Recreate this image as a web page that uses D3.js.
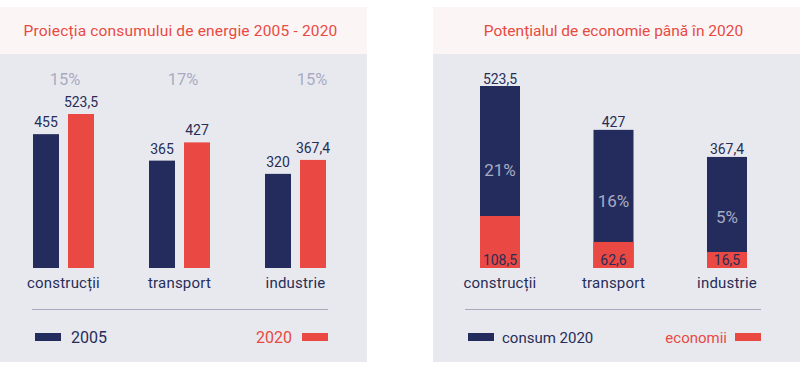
<!DOCTYPE html>
<html><head><meta charset="utf-8">
<script src="https://cdn.jsdelivr.net/npm/d3@7"></script>
<style>body{margin:0;background:#fff}svg{display:block;font-family:Roboto,sans-serif}</style>
</head><body><svg id="c" width="800" height="378"></svg>
<script>
// ---- data ----
const categories = ["construcții", "transport", "industrie"];
const values2005 = [455, 365, 320];
const values2020 = [523.5, 427, 367.4];
const growthPct = ["15%", "17%", "15%"];
const consum2020 = [523.5, 427, 367.4];
const economii = [108.5, 62.6, 16.5];
const savingPct = ["21%", "16%", "5%"];
const leftTitle = "Proiecția consumului de energie 2005 - 2020";
const rightTitle = "Potențialul de economie până în 2020";
const fmt = v => String(v).replace(".", ",");

// ---- style ----
const NAVY = "#232c5d", RED = "#e94942", PCT = "#a8acc2", BG = "#e8e9ef", HEAD = "#fbf6f5", TXT = "#272d57";
const svg = d3.select("#c");

function panel(x0, x1, title, ls) {
  svg.append("rect").attr("x", x0).attr("y", 7).attr("width", x1 - x0).attr("height", 47).attr("fill", HEAD);
  svg.append("rect").attr("x", x0).attr("y", 54).attr("width", x1 - x0).attr("height", 308).attr("fill", BG);
  svg.append("text").attr("x", (x0 + x1) / 2 - 3).attr("y", 36).attr("text-anchor", "middle")
    .attr("fill", RED).attr("font-size", 15.5).attr("letter-spacing", ls).text(title);
}
panel(0, 367, leftTitle, 0.18);
panel(433, 800, rightTitle, 0);

// ---- left chart ----
const xL = d3.scalePoint().domain(categories).range([63.5, 295.5]);
const xInner = d3.scaleBand().domain(["2005", "2020"]).range([-30.5, 30.5]).paddingInner(9 / 35);
const yL = d3.scaleLinear().domain([0, 523.5]).range([268, 114]);
const pctDx = [1.5, 3.5, 16.5];

const gL = svg.append("g");
categories.forEach((c, i) => {
  [["2005", values2005[i], NAVY], ["2020", values2020[i], RED]].forEach(([k, v, col]) => {
    const x = xL(c) + xInner(k);
    gL.append("rect").attr("x", x).attr("y", yL(v)).attr("width", xInner.bandwidth())
      .attr("height", yL(0) - yL(v)).attr("fill", col);
    gL.append("text").attr("x", x + xInner.bandwidth() / 2).attr("y", yL(v) - 7)
      .attr("text-anchor", "middle").attr("fill", TXT).attr("font-size", 14).text(fmt(v));
  });
  gL.append("text").attr("x", xL(c) + pctDx[i]).attr("y", 85).attr("text-anchor", "middle")
    .attr("fill", PCT).attr("font-size", 16.5).text(growthPct[i]);
  gL.append("text").attr("x", xL(c)).attr("y", 288).attr("text-anchor", "middle")
    .attr("fill", TXT).attr("font-size", 15).attr("letter-spacing", 0.2).text(c);
});
gL.append("line").attr("x1", 32).attr("x2", 328).attr("y1", 309.5).attr("y2", 309.5)
  .attr("stroke", "#a9aabd").attr("stroke-width", 1);
gL.append("rect").attr("x", 35).attr("y", 333).attr("width", 26).attr("height", 8).attr("fill", NAVY);
gL.append("text").attr("x", 71).attr("y", 343).attr("fill", TXT).attr("font-size", 16).text("2005");
gL.append("rect").attr("x", 302).attr("y", 333).attr("width", 26).attr("height", 8).attr("fill", RED);
gL.append("text").attr("x", 292).attr("y", 343).attr("text-anchor", "end").attr("fill", RED).attr("font-size", 16).text("2020");

// ---- right chart ----
const xR = d3.scalePoint().domain(categories).range([500, 727]);
const bw = 40;
const yTot = d3.scaleLinear().domain([123, 523.5]).range([268, 86]);
const ySave = d3.scaleLinear().domain([16.5, 108.5]).range([268, 216]);
const minSeg = 16;
const gR = svg.append("g");
categories.forEach((c, i) => {
  const cx = xR(c);
  const top = yTot(consum2020[i]);
  const sTop = Math.min(ySave(economii[i]), 268 - minSeg);
  gR.append("rect").attr("x", cx - bw / 2).attr("y", top).attr("width", bw).attr("height", 268 - top).attr("fill", NAVY);
  gR.append("rect").attr("x", cx - bw / 2).attr("y", sTop).attr("width", bw).attr("height", 268 - sTop).attr("fill", RED);
  gR.append("text").attr("x", cx).attr("y", top - 2.5).attr("text-anchor", "middle")
    .attr("fill", TXT).attr("font-size", 14).text(fmt(consum2020[i]));
  gR.append("text").attr("x", cx).attr("y", 265).attr("text-anchor", "middle")
    .attr("fill", TXT).attr("font-size", 14).text(fmt(economii[i]));
  gR.append("text").attr("x", cx).attr("y", top + 0.69 * (sTop - top)).attr("text-anchor", "middle")
    .attr("fill", PCT).attr("font-size", 17).text(savingPct[i]);
  gR.append("text").attr("x", cx).attr("y", 288).attr("text-anchor", "middle")
    .attr("fill", TXT).attr("font-size", 15).attr("letter-spacing", 0.2).text(c);
});
gR.append("line").attr("x1", 465).attr("x2", 761).attr("y1", 309.5).attr("y2", 309.5)
  .attr("stroke", "#a9aabd").attr("stroke-width", 1);
gR.append("rect").attr("x", 468).attr("y", 333).attr("width", 26).attr("height", 8).attr("fill", NAVY);
gR.append("text").attr("x", 502).attr("y", 343).attr("fill", TXT).attr("font-size", 15).text("consum 2020");
gR.append("rect").attr("x", 735).attr("y", 333).attr("width", 26).attr("height", 8).attr("fill", RED);
gR.append("text").attr("x", 727).attr("y", 343).attr("text-anchor", "end").attr("fill", RED).attr("font-size", 15).text("economii");
</script></body></html>
